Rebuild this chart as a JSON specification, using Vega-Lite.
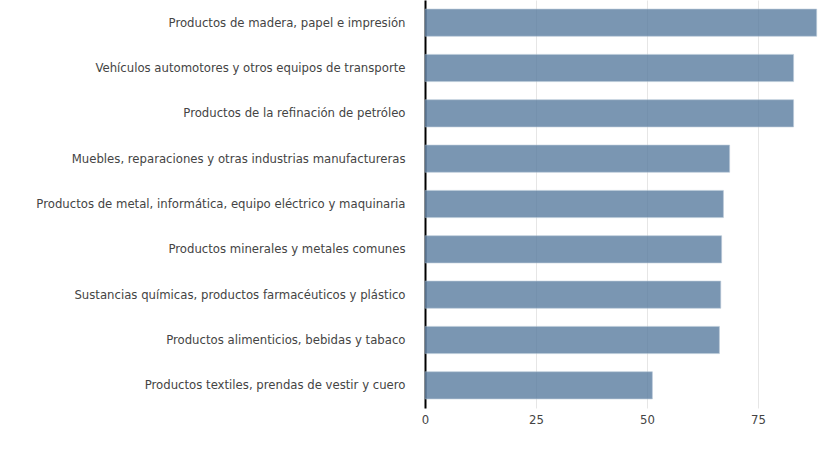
{
  "$schema": "https://vega.github.io/schema/vega-lite/v6.json",
  "autosize": {"type": "none"},
  "padding": {"left": 425, "top": 0, "right": 7, "bottom": 42},
  "width": 393,
  "height": 408,
  "config": {"view": {"stroke": null}, "font": "DejaVu Sans"},
  "data": {
    "values": [
      {"sector": "Productos de madera, papel e impresión", "valor": 88.2},
      {"sector": "Vehículos automotores y otros equipos de transporte", "valor": 83.0},
      {"sector": "Productos de la refinación de petróleo", "valor": 83.0},
      {"sector": "Muebles, reparaciones y otras industrias manufactureras", "valor": 68.6},
      {"sector": "Productos de metal, informática, equipo eléctrico y maquinaria", "valor": 67.2},
      {"sector": "Productos minerales y metales comunes", "valor": 66.8},
      {"sector": "Sustancias químicas, productos farmacéuticos y plástico", "valor": 66.6},
      {"sector": "Productos alimenticios, bebidas y tabaco", "valor": 66.3},
      {"sector": "Productos textiles, prendas de vestir y cuero", "valor": 51.2}
    ]
  },
  "mark": {"type": "bar", "color": "#5a7ca0", "opacity": 0.8, "stroke": "#a9bccf", "strokeWidth": 1, "strokeOpacity": 0.6},
  "encoding": {
    "y": {
      "field": "sector", "type": "nominal", "sort": null, "title": null,
      "scale": {"paddingInner": 0.4, "paddingOuter": 0.2},
      "axis": {"ticks": false, "domainColor": "#000", "domainWidth": 2, "labelPadding": 20, "labelFontSize": 11.7, "labelColor": "#444", "labelLimit": 420}
    },
    "x": {
      "field": "valor", "type": "quantitative", "title": null,
      "scale": {"domain": [0, 88.5], "nice": false},
      "axis": {"values": [0, 25, 50, 75], "domain": false, "ticks": false, "labelFlush": false, "labelPadding": 6, "labelFontSize": 11.7, "labelColor": "#444", "gridColor": "#e6e6e6"}
    }
  }
}
